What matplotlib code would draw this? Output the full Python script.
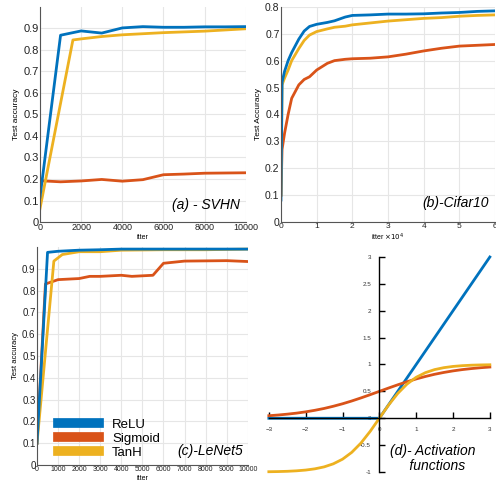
import numpy as np
import matplotlib
matplotlib.use("Agg")
import matplotlib.pyplot as plt
from matplotlib.lines import Line2D

plt.rcParams['font.family'] = ['Liberation Sans', 'DejaVu Sans']

BLUE = '#0072BD'
RED = '#D95319'
YEL = '#EDB120'

# (a) SVHN
svhn_relu_x = [0, 1000, 2000, 3000, 4000, 5000, 6000, 7000, 8000, 9000, 10000]
svhn_relu_y = [0.115, 0.868, 0.888, 0.878, 0.902, 0.908, 0.905, 0.905, 0.907, 0.907, 0.908]
svhn_sig_x = [0, 1000, 2000, 3000, 4000, 5000, 6000, 7000, 8000, 9000, 10000]
svhn_sig_y = [0.192, 0.187, 0.191, 0.198, 0.190, 0.197, 0.220, 0.223, 0.227, 0.228, 0.229]
svhn_tanh_x = [0, 1600, 2000, 3000, 4000, 6000, 8000, 10000]
svhn_tanh_y = [0.062, 0.846, 0.851, 0.862, 0.870, 0.880, 0.887, 0.898]

# (b) Cifar10, x in units of 1e4
cif_x = [0, 0.03, 0.1, 0.2, 0.3, 0.5, 0.65, 0.8, 1.0, 1.3, 1.5, 1.8, 2.0, 2.5, 3.0, 3.5, 4.0, 4.5, 5.0, 5.5, 6.0]
cif_relu = [0.082, 0.52, 0.56, 0.60, 0.63, 0.68, 0.71, 0.727, 0.735, 0.742, 0.748, 0.762, 0.768, 0.770, 0.773, 0.773, 0.774, 0.777, 0.779, 0.783, 0.785]
cif_tanh = [0.10, 0.51, 0.535, 0.565, 0.60, 0.645, 0.675, 0.695, 0.708, 0.718, 0.724, 0.728, 0.733, 0.740, 0.747, 0.752, 0.757, 0.760, 0.765, 0.768, 0.770]
cif_sig = [0.10, 0.27, 0.33, 0.40, 0.46, 0.51, 0.53, 0.54, 0.565, 0.59, 0.600, 0.605, 0.607, 0.609, 0.614, 0.624, 0.636, 0.646, 0.654, 0.657, 0.660]

# (c) LeNet5
len_relu_x = [0, 500, 1000, 2000, 3000, 4000, 6000, 8000, 10000]
len_relu_y = [0.10, 0.975, 0.980, 0.985, 0.987, 0.990, 0.990, 0.990, 0.990]
len_tanh_x = [0, 800, 1200, 2000, 3000, 4000, 6000, 8000, 10000]
len_tanh_y = [0.10, 0.935, 0.965, 0.978, 0.978, 0.985, 0.987, 0.987, 0.990]
len_sig_x = [0, 400, 1000, 2000, 2500, 3000, 4000, 4500, 5500, 6000, 7000, 9000, 10000]
len_sig_y = [0.10, 0.830, 0.850, 0.855, 0.865, 0.865, 0.870, 0.865, 0.870, 0.925, 0.935, 0.937, 0.933]

# (d) activation functions, sampled values
act_x = [-3, -2.75, -2.5, -2.25, -2, -1.75, -1.5, -1.25, -1, -0.75, -0.5, -0.25, 0,
         0.25, 0.5, 0.75, 1, 1.25, 1.5, 1.75, 2, 2.25, 2.5, 2.75, 3]
act_relu = [0, 0, 0, 0, 0, 0, 0, 0, 0, 0, 0, 0, 0,
            0.25, 0.5, 0.75, 1, 1.25, 1.5, 1.75, 2, 2.25, 2.5, 2.75, 3]
act_sig = [0.047, 0.060, 0.076, 0.095, 0.119, 0.148, 0.182, 0.223, 0.269, 0.321, 0.378, 0.438, 0.5,
           0.562, 0.622, 0.679, 0.731, 0.777, 0.818, 0.852, 0.881, 0.905, 0.924, 0.940, 0.953]
act_tanh = [-0.995, -0.992, -0.987, -0.978, -0.964, -0.941, -0.905, -0.848, -0.762, -0.635, -0.462, -0.245, 0,
            0.245, 0.462, 0.635, 0.762, 0.848, 0.905, 0.941, 0.964, 0.978, 0.987, 0.992, 0.995]

fig = plt.figure(figsize=(4.96, 4.87), dpi=100)
lw = 2.0
GRID = '#e6e6e6'
SP = '#555555'


def style(ax, fs):
    ax.grid(True, color=GRID, linewidth=0.8)
    ax.set_axisbelow(True)
    for s in ['top', 'right']:
        ax.spines[s].set_visible(False)
    for s in ['left', 'bottom']:
        ax.spines[s].set_color(SP)
        ax.spines[s].set_linewidth(0.8)
    ax.tick_params(length=0, labelsize=fs, colors='#222222', pad=1)


def fmt(v):
    return '0' if v == 0 else '%.1f' % v


# (a)
ax = fig.add_axes([0.0806, 0.544, 0.415, 0.442])
ax.plot(svhn_sig_x, svhn_sig_y, color=RED, lw=lw)
ax.plot(svhn_tanh_x, svhn_tanh_y, color=YEL, lw=lw)
ax.plot(svhn_relu_x, svhn_relu_y, color=BLUE, lw=lw)
ax.set_xlim(0, 10000)
ax.set_ylim(0, 1)
ax.set_xticks(range(0, 10001, 2000))
ax.set_yticks(np.arange(0, 1.0, 0.1))
ax.set_yticklabels([fmt(v) for v in np.arange(0, 1.0, 0.1)])
style(ax, 8)
ax.tick_params(axis='x', labelsize=6.5)
ax.set_ylabel('Test accuracy', fontsize=6, labelpad=2)
ax.set_xlabel('itter', fontsize=5, labelpad=1)
ax.text(0.97, 0.08, '(a) - SVHN', transform=ax.transAxes, ha='right', va='center',
        fontsize=10, style='italic')

# (b)
ax = fig.add_axes([0.5665, 0.544, 0.4315, 0.442])
ax.plot(cif_x, cif_sig, color=RED, lw=lw)
ax.plot(cif_x, cif_tanh, color=YEL, lw=lw)
ax.plot(cif_x, cif_relu, color=BLUE, lw=lw)
ax.set_xlim(0, 6)
ax.set_ylim(0, 0.8)
ax.set_xticks(range(0, 7))
ax.set_yticks(np.arange(0, 0.81, 0.1))
ax.set_yticklabels([fmt(v) for v in np.arange(0, 0.81, 0.1)])
style(ax, 7.5)
ax.tick_params(axis='x', labelsize=6)
ax.set_ylabel('Test Accuracy', fontsize=6, labelpad=2)
ax.set_xlabel(r'itter $\times 10^4$', fontsize=5, labelpad=1)
ax.text(0.97, 0.09, '(b)-Cifar10', transform=ax.transAxes, ha='right', va='center',
        fontsize=10, style='italic')

# (c)
ax = fig.add_axes([0.0746, 0.045, 0.425, 0.448])
ax.plot(len_sig_x, len_sig_y, color=RED, lw=lw)
ax.plot(len_tanh_x, len_tanh_y, color=YEL, lw=lw)
ax.plot(len_relu_x, len_relu_y, color=BLUE, lw=lw)
ax.set_xlim(0, 10000)
ax.set_ylim(0, 1)
ax.set_xticks(range(0, 10001, 1000))
ax.set_yticks(np.arange(0, 1.0, 0.1))
ax.set_yticklabels([fmt(v) for v in np.arange(0, 1.0, 0.1)])
style(ax, 7)
ax.tick_params(axis='x', labelsize=5)
ax.set_ylabel('Test accuracy', fontsize=5.5, labelpad=2)
ax.set_xlabel('itter', fontsize=5, labelpad=1)
ax.text(0.98, 0.065, '(c)-LeNet5', transform=ax.transAxes, ha='right', va='center',
        fontsize=10, style='italic')
handles = [Line2D([], [], color=BLUE, lw=7), Line2D([], [], color=RED, lw=7),
           Line2D([], [], color=YEL, lw=7)]
ax.legend(handles, ['ReLU', 'Sigmoid', 'TanH'], loc='lower left', bbox_to_anchor=(0.1, 0.03),
          borderaxespad=0, borderpad=0, frameon=False, fontsize=9.5, handlelength=3.1,
          handletextpad=1.0, labelspacing=0.12)

# (d)
ax = fig.add_axes([0.542, 0.0308, 0.4456, 0.4415])
ax.plot(act_x, act_relu, color=BLUE, lw=lw, clip_on=False)
ax.plot(act_x, act_sig, color=RED, lw=lw, clip_on=False)
ax.plot(act_x, act_tanh, color=YEL, lw=lw, clip_on=False)
ax.set_xlim(-3, 3)
ax.set_ylim(-1, 3)
for s in ['top', 'right']:
    ax.spines[s].set_visible(False)
ax.spines['left'].set_position(('data', 0))
ax.spines['bottom'].set_position(('data', 0))
for s in ['left', 'bottom']:
    ax.spines[s].set_color('black')
    ax.spines[s].set_linewidth(1.0)
    ax.spines[s].set_zorder(3)
ax.set_xticks(range(-3, 4))
ax.set_yticks(np.arange(-1, 3.01, 0.5))
ax.set_yticklabels(['%g' % v for v in np.arange(-1, 3.01, 0.5)])
ax.tick_params(direction='in', length=4, width=1, labelsize=4.5, colors='black',
               labelcolor='#333333', pad=6)
ax.text(0.28, -0.75, '(d)- Activation\n     functions', fontsize=10, style='italic',
        ha='left', va='center', linespacing=1.15)

fig.savefig('out.png', dpi=100)
